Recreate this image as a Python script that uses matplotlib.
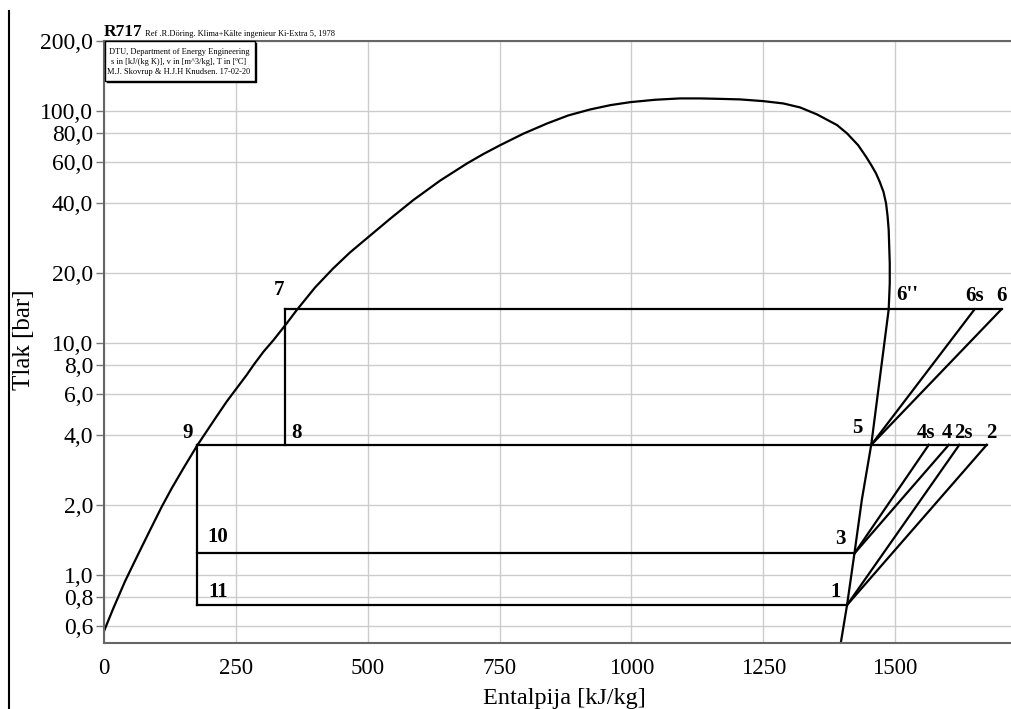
import matplotlib
matplotlib.use("Agg")
import matplotlib.pyplot as plt
from matplotlib.lines import Line2D
from matplotlib.patches import Rectangle
from matplotlib.ticker import FixedLocator, NullLocator

plt.rcParams['font.family'] = ['Liberation Serif', 'DejaVu Serif']

# ---- saturation dome (enthalpy kJ/kg, pressure bar) ----
dome_h = [0, 17, 39, 62, 87, 109, 128, 150, 176, 210, 232, 251, 270, 283,
          302, 321, 346, 365, 400, 434, 466, 498, 542, 586, 637, 688, 719,
          751, 795, 840, 880, 922, 960, 998, 1045, 1092, 1130, 1168, 1206, 1250,
          1288, 1320, 1352, 1390, 1409, 1430, 1445, 1455, 1464, 1471, 1478, 1483,
          1486, 1488, 1489, 1490, 1490, 1488, 1455, 1437, 1423, 1409, 1397]
dome_p = [0.575, 0.715, 0.933, 1.196, 1.56, 1.964, 2.36, 2.874, 3.60, 4.70,
          5.57, 6.36, 7.26, 8.01, 9.15, 10.27, 12.12, 13.83, 17.33, 20.9, 24.5,
          28.2, 34.2, 41.2, 50.0, 59.3, 65.1, 71.1, 79.7, 88.2, 95.5, 101.4, 105.8,
          109.0, 111.6, 113.1, 113.1, 112.6, 112.0, 110.1, 107.6, 103.4, 96.5, 86.8,
          79.9, 71.1, 63.4, 58.3, 53.7, 49.4, 44.8, 39.9, 34.9, 30.6, 25.9, 22.0,
          18.03, 13.93, 3.65, 2.10, 1.236, 0.740, 0.506]

# ---- cycle pressure levels (bar) ----
p_low = 0.74
p_mid = 1.235
p_int = 3.63
p_high = 13.95

# ---- cycle point enthalpies (kJ/kg) ----
point_names = ["1", "2s", "2", "3", "4s", "4", "5", "6''", "6s", "6", "7", "8", "9", "10", "11"]
point_h = [1409, 1622, 1674, 1423, 1564, 1602, 1455, 1488, 1651, 1702, 342, 342, 176, 176, 176]
point_p = [p_low, p_int, p_int, p_mid, p_int, p_int, p_int, p_high, p_high, p_high,
           p_high, p_int, p_int, p_mid, p_low]

# ---- segments of the cycle (by point name) ----
segments = [("11", "1"), ("10", "3"), ("9", "2"), ("7", "6"),
            ("9", "11"), ("7", "8"),
            ("1", "2s"), ("1", "2"), ("3", "4s"), ("3", "4"), ("5", "6s"), ("5", "6")]

# ---- axis ticks ----
x_ticks = [0, 250, 500, 750, 1000, 1250, 1500]
x_tick_labels = ["0", "250", "500", "750", "1000", "1250", "1500"]
y_ticks = [0.6, 0.8, 1.0, 2.0, 4.0, 6.0, 8.0, 10.0, 20.0, 40.0, 60.0, 80.0, 100.0, 200.0]
y_tick_labels = ["0,6", "0,8", "1,0", "2,0", "4,0", "6,0", "8,0", "10,0", "20,0",
                 "40,0", "60,0", "80,0", "100,0", "200,0"]

info_lines = ["DTU, Department of Energy Engineering",
              "s in [kJ/(kg K)], v in [m^3/kg], T in [ºC]",
              "M.J. Skovrup & H.J.H Knudsen. 17-02-20"]

# label offsets in pixels (style only)
label_offsets = {"1": (-11, 13), "2s": (4, 12), "2": (5, 12), "3": (-14, 14),
                 "4s": (-3, 12), "4": (-2, 12), "5": (-14, 17), "6''": (19, 14),
                 "6s": (0, 13), "6": (0, 13), "7": (-6, 19), "8": (12, 12),
                 "9": (-9, 12), "10": (21, 16), "11": (21, 13)}

W, H = 1011, 709
fig = plt.figure(figsize=(W / 100, H / 100), dpi=100)
left, right, top, bottom = 104.3, 1011, 41, 642.5
ax = fig.add_axes([left / W, 1 - bottom / H, (right - left) / W, (bottom - top) / H])
ax.set_yscale('log')
ax.set_xlim(0, 1720)
ax.set_ylim(0.51, 200)

ax.xaxis.set_major_locator(FixedLocator(x_ticks))
ax.set_xticklabels(x_tick_labels)
ax.yaxis.set_major_locator(FixedLocator(y_ticks))
ax.yaxis.set_minor_locator(NullLocator())
ax.set_yticklabels(y_tick_labels)
ax.tick_params(axis='y', which='major', length=6, width=1, color='#777777',
               labelsize=17, pad=2)
ax.tick_params(axis='x', which='major', length=0, labelsize=16.5, pad=11)
ax.grid(True, color='#cccccc', lw=1)
ax.set_axisbelow(True)
for s in ['left', 'bottom', 'top']:
    ax.spines[s].set_color('#666666')
    ax.spines[s].set_linewidth(1.5)
ax.spines['right'].set_visible(False)

ax.set_xlabel("Entalpija [kJ/kg]", fontsize=17.5, labelpad=0)
ax.xaxis.set_label_coords((564 - left) / (right - left), -0.075)
ax.set_ylabel("Tlak [bar]", fontsize=18)
ax.yaxis.set_label_coords((35 - left) / (right - left), (bottom - 340) / (bottom - top))

# dome
ax.plot(dome_h, dome_p, color='black', lw=1.6, clip_on=True)

# cycle
pts = {n: (h, p) for n, h, p in zip(point_names, point_h, point_p)}
for a, b in segments:
    ax.plot([pts[a][0], pts[b][0]], [pts[a][1], pts[b][1]], color='black', lw=1.6)

for n in point_names:
    dx, dy = label_offsets[n]
    ax.annotate(n, xy=pts[n], xytext=(dx, dy), textcoords='offset pixels',
                ha='center', va='center', fontsize=15, fontweight='bold')

# header texts
fig.text(104 / W, 1 - 35.5 / H, "R717", fontsize=12.5, fontweight='bold',
         ha='left', va='baseline')
fig.text(145 / W, 1 - 35.5 / H, "Ref .R.Döring. Klima+Kälte ingenieur Ki-Extra 5, 1978",
         fontsize=6, ha='left', va='baseline')

# info box
bx0, by0, bx1, by1 = 104.5, 41, 255, 81
fig.add_artist(Rectangle((bx0 / W, 1 - by1 / H), (bx1 - bx0) / W, (by1 - by0) / H,
                         transform=fig.transFigure, facecolor='white',
                         edgecolor='black', lw=1, zorder=5))
fig.add_artist(Line2D([(bx0 + 2) / W, (bx1 + 1) / W, (bx1 + 1) / W],
                      [1 - (by1 + 1) / H, 1 - (by1 + 1) / H, 1 - (by0 + 2) / H],
                      transform=fig.transFigure, color='black', lw=1, zorder=5))
for i, line in enumerate(info_lines):
    fig.text(179 / W, 1 - (51.7 + 10 * i) / H, line, fontsize=6, ha='center',
             va='center', zorder=6)

# left border line of the screenshot
fig.add_artist(Line2D([9 / W, 9 / W], [0, 1 - 11 / H], color='black', lw=1.5))

fig.savefig("out.png", dpi=100)
